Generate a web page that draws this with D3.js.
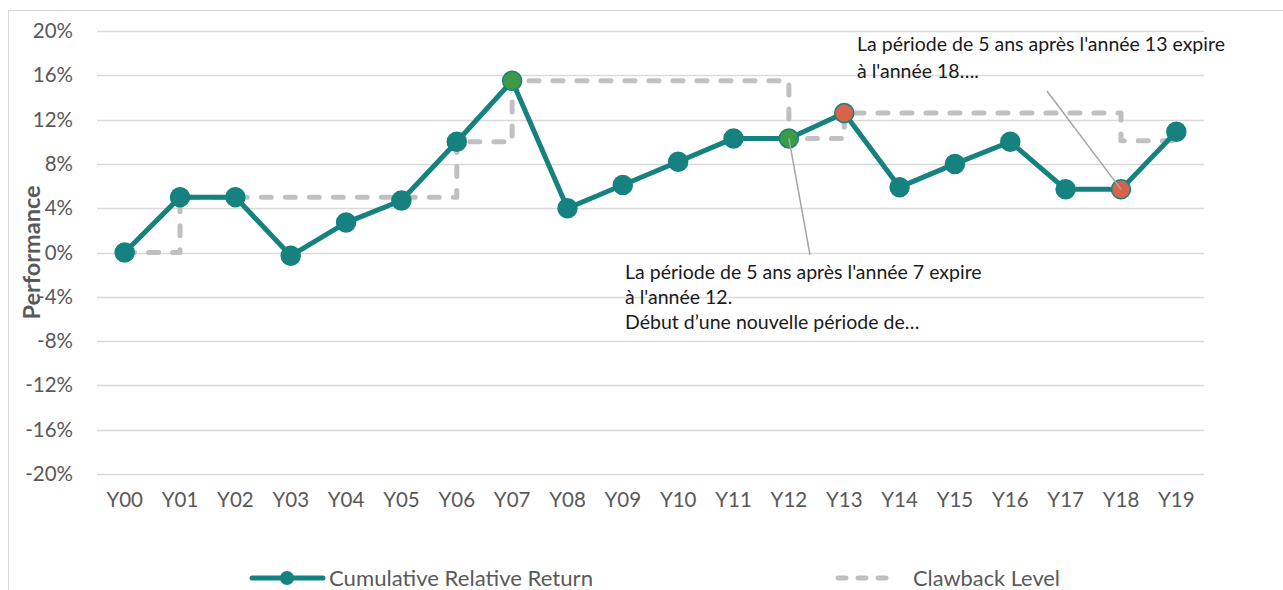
<!DOCTYPE html>
<html>
<head>
<meta charset="utf-8">
<script src="https://cdn.jsdelivr.net/npm/d3@7"></script>
<style>
  body { margin: 0; background: #fff; }
  svg { display: block; font-family: Lato, "Open Sans", sans-serif; }
</style>
</head>
<body>
<div id="chart"></div>
<script>
// data
const years = ['Y00','Y01','Y02','Y03','Y04','Y05','Y06','Y07','Y08','Y09',
               'Y10','Y11','Y12','Y13','Y14','Y15','Y16','Y17','Y18','Y19'];
const cumulativeReturn = [0, 5.0, 5.0, -0.3, 2.7, 4.7, 10.0, 15.5, 4.0, 6.1,
                          8.2, 10.3, 10.3, 12.6, 5.9, 8.0, 10.0, 5.7, 5.7, 10.9];
const clawbackLevel = [0, 5.0, 5.0, 5.0, 5.0, 5.0, 10.0, 15.5, 15.5, 15.5,
                       15.5, 15.5, 10.3, 12.6, 12.6, 12.6, 12.6, 12.6, 10.1, 10.1];
const yTicks = [-20, -16, -12, -8, -4, 0, 4, 8, 12, 16, 20];
const greenPoints = ['Y07', 'Y12'];
const redPoints = ['Y13', 'Y18'];
const seriesNames = ['Cumulative Relative Return', 'Clawback Level'];

const width = 1283, height = 590;
const margin = { top: 31, left: 97, right: 79, bottom: 116 };

const teal = '#16827f';
const dashGray = '#c0c0c0';
const textGray = '#595959';
const font = 'Lato, "Open Sans", sans-serif';

const svg = d3.select('#chart').append('svg')
  .attr('width', width)
  .attr('height', height);

// chart frame
svg.append('rect')
  .attr('x', 8.5).attr('y', 10.5)
  .attr('width', 1300).attr('height', 620)
  .attr('fill', 'none')
  .attr('stroke', '#d9d9d9');

const x = d3.scaleBand()
  .domain(years)
  .range([margin.left, width - margin.right]);

const y = d3.scaleLinear()
  .domain([-20, 20])
  .range([height - margin.bottom, margin.top]);

const cx = d => x(d) + x.bandwidth() / 2;

// gridlines
svg.append('g')
  .selectAll('line')
  .data(yTicks)
  .join('line')
  .attr('x1', margin.left)
  .attr('x2', width - margin.right)
  .attr('y1', d => Math.round(y(d)) + 0.5)
  .attr('y2', d => Math.round(y(d)) + 0.5)
  .attr('stroke', '#d9d9d9')
  .attr('stroke-width', 1.3);

// y axis labels
const yAxis = svg.append('g')
  .attr('transform', `translate(${margin.left},0)`)
  .call(d3.axisLeft(y).tickValues(yTicks).tickSize(0).tickPadding(24).tickFormat(d => d + '%'));
yAxis.select('.domain').remove();
yAxis.selectAll('text')
  .attr('fill', textGray)
  .style('font-size', '20.5px')
  .style('font-family', font);

// x axis labels
const xAxis = svg.append('g')
  .attr('transform', `translate(0,${height - margin.bottom})`)
  .call(d3.axisBottom(x).tickSize(0).tickPadding(18));
xAxis.select('.domain').remove();
xAxis.selectAll('text')
  .attr('fill', textGray)
  .style('font-size', '20.5px')
  .style('font-family', font);

// y axis title
svg.append('text')
  .attr('transform', `translate(40,${y(0)}) rotate(-90)`)
  .attr('text-anchor', 'middle')
  .attr('fill', textGray)
  .style('font-size', '23.5px')
  .style('font-weight', 'bold')
  .style('font-family', font)
  .text('Performance');

// clawback level (dashed step line)
const clawLine = d3.line()
  .x((d, i) => cx(years[i]))
  .y(d => y(d))
  .curve(d3.curveStepAfter);

svg.append('path')
  .datum(clawbackLevel)
  .attr('d', clawLine)
  .attr('fill', 'none')
  .attr('stroke', dashGray)
  .attr('stroke-width', 5)
  .attr('stroke-dasharray', '10,14')
  .attr('stroke-linecap', 'round')
  .attr('stroke-linejoin', 'round');

// cumulative return line
const retLine = d3.line()
  .x((d, i) => cx(years[i]))
  .y(d => y(d));

svg.append('path')
  .datum(cumulativeReturn)
  .attr('d', retLine)
  .attr('fill', 'none')
  .attr('stroke', teal)
  .attr('stroke-width', 5)
  .attr('stroke-linejoin', 'round');

const pointColor = yr => greenPoints.includes(yr) ? '#3d9b48'
  : redPoints.includes(yr) ? '#d6634a' : teal;

svg.append('g')
  .selectAll('circle')
  .data(cumulativeReturn)
  .join('circle')
  .attr('cx', (d, i) => cx(years[i]))
  .attr('cy', d => y(d))
  .attr('r', 9.5)
  .attr('fill', (d, i) => pointColor(years[i]))
  .attr('stroke', teal)
  .attr('stroke-width', 1.5);

// annotations
function annotation(lines, tx, ty, lineH, from, toYear) {
  const ix = years.indexOf(toYear);
  svg.append('line')
    .attr('x1', from[0]).attr('y1', from[1])
    .attr('x2', cx(toYear)).attr('y2', y(cumulativeReturn[ix]))
    .attr('stroke', '#a6a6a6')
    .attr('stroke-width', 1.5);
  const t = svg.append('text')
    .attr('x', tx).attr('y', ty)
    .attr('fill', '#1a1a1a')
    .style('font-size', '19.5px')
    .style('font-family', font);
  lines.forEach((l, i) => {
    t.append('tspan').attr('x', tx).attr('dy', i === 0 ? 0 : lineH).text(l);
  });
}

annotation(
  ["La période de 5 ans après l'année 13 expire", "à l'année 18…."],
  857, 51, 27, [1047, 91], 'Y18');

annotation(
  ["La période de 5 ans après l'année 7 expire", "à l'année 12.", "Début d’une nouvelle période de…"],
  625, 279, 25, [810, 255], 'Y12');

// legend
const legend = svg.append('g');
legend.append('line')
  .attr('x1', 252).attr('x2', 323)
  .attr('y1', 578).attr('y2', 578)
  .attr('stroke', teal).attr('stroke-width', 5).attr('stroke-linecap', 'round');
legend.append('circle')
  .attr('cx', 287).attr('cy', 578).attr('r', 7).attr('fill', teal);
legend.append('text')
  .attr('x', 329).attr('y', 585.5)
  .attr('fill', textGray)
  .attr('textLength', 264)
  .attr('lengthAdjust', 'spacingAndGlyphs')
  .style('font-size', '21px')
  .style('font-family', font)
  .text(seriesNames[0]);

legend.append('line')
  .attr('x1', 838).attr('x2', 893)
  .attr('y1', 578).attr('y2', 578)
  .attr('stroke', dashGray).attr('stroke-width', 5)
  .attr('stroke-dasharray', '8,12').attr('stroke-linecap', 'round');
legend.append('text')
  .attr('x', 913).attr('y', 585.5)
  .attr('fill', textGray)
  .attr('textLength', 147)
  .attr('lengthAdjust', 'spacingAndGlyphs')
  .style('font-size', '21px')
  .style('font-family', font)
  .text(seriesNames[1]);
</script>
</body>
</html>
